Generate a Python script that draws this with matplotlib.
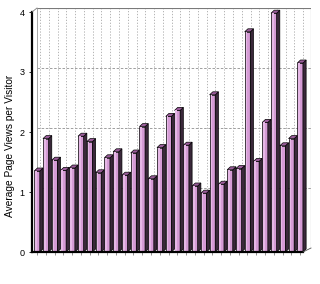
import matplotlib
matplotlib.use("Agg")
import matplotlib.pyplot as plt
from matplotlib.patches import Polygon

plt.rcParams['font.family'] = ['Liberation Sans', 'DejaVu Sans']

values = [1.35, 1.89, 1.53, 1.36, 1.40, 1.93, 1.84, 1.32, 1.57, 1.67,
          1.28, 1.65, 2.09, 1.22, 1.74, 2.26, 2.36, 1.78, 1.10, 0.98,
          2.62, 1.13, 1.37, 1.39, 3.67, 1.51, 2.16, 3.98, 1.77, 1.89, 3.15]
yticks = [0, 1, 2, 3, 4]
ylabel = "Average Page Views per Visitor"

W, H = 320, 284
fig = plt.figure(figsize=(W / 100, H / 100), dpi=100)
ax = fig.add_axes([32 / W, (H - 252) / H, (311 - 32) / W, (252 - 8) / H])

px_x = 1 / 8.77   # data units per pixel (x)
px_y = 1 / 60.0   # data units per pixel (y)
x0 = -5 * px_x
x1 = 31.24
ytop = 244 * px_y
ax.set_xlim(x0, x1)
ax.set_ylim(0, ytop)
for s in ax.spines.values():
    s.set_visible(False)

# back wall depth
wdx, wdy = 5 * px_x, 4 * px_y
n = len(values)
xs = list(range(n))

# back wall grid
for yv in yticks[1:-1]:
    ax.plot([x0 + wdx, x1], [yv + wdy, yv + wdy], color='#8f8f8f', lw=0.6,
            ls=(0, (3, 2)), zorder=1)
for i in xs:
    ax.plot([i + 0.35, i + 0.35], [wdy, ytop], color='#a8a8a8', lw=0.6,
            ls=(0, (1.5, 2.0)), zorder=1)
# back wall frame
ax.plot([x0 + wdx, x1, x1], [ytop - 0.003, ytop - 0.003, wdy], color='#7a7a7a', lw=0.8, zorder=1)
ax.plot([x0 + wdx, x0 + wdx], [wdy, ytop], color='#9a9a9a', lw=0.6, zorder=1)

# bars
w = 5.6 * px_x
bdx, bdy = 3.2 * px_x, 3.0 * px_y
front = '#d59bd5'
light = '#e6b8e6'
side = '#3a283a'
top = '#9a5c9a'
for i, v in zip(xs, values):
    ax.bar(i, v, width=w, color=front, edgecolor='black', linewidth=0.5, zorder=3)
    ax.bar(i - w * 0.18, v, width=w * 0.3, color=light, linewidth=0, zorder=3.5)
    ax.add_patch(Polygon([(i + w / 2, 0), (i + w / 2 + bdx, bdy), (i + w / 2 + bdx, v + bdy),
                          (i + w / 2, v)], closed=True, facecolor=side, edgecolor='black',
                         linewidth=0.5, zorder=3))
    ax.add_patch(Polygon([(i - w / 2, v), (i + w / 2, v), (i + w / 2 + bdx, v + bdy),
                          (i - w / 2 + bdx, v + bdy)], closed=True, facecolor=top,
                         edgecolor='black', linewidth=0.5, zorder=3))

# front axes
xr = 30.33
ax.plot([x0, x0], [0, 4], color='black', lw=1.6, zorder=5, clip_on=False)
ax.plot([x0, x0 + wdx], [4, 4 + wdy], color='#7a7a7a', lw=0.6, zorder=5, clip_on=False)
ax.plot([x0, xr], [0, 0], color='black', lw=1.6, zorder=5, clip_on=False)
ax.plot([xr, x1], [0, wdy], color='#555555', lw=0.6, zorder=5, clip_on=False)

ax.set_yticks(yticks)
ax.set_yticklabels([str(t) for t in yticks], fontsize=6.5)
ax.set_xticks(xs)
ax.set_xticklabels([])
ax.tick_params(axis='y', length=2.5, width=0.6, pad=3)
ax.tick_params(axis='x', length=2, width=0.5, color='#666666')
ax.set_ylabel(ylabel, fontsize=7.3)
ax.yaxis.set_label_coords(-0.062, 0.434)

fig.savefig('out.png', dpi=100)
